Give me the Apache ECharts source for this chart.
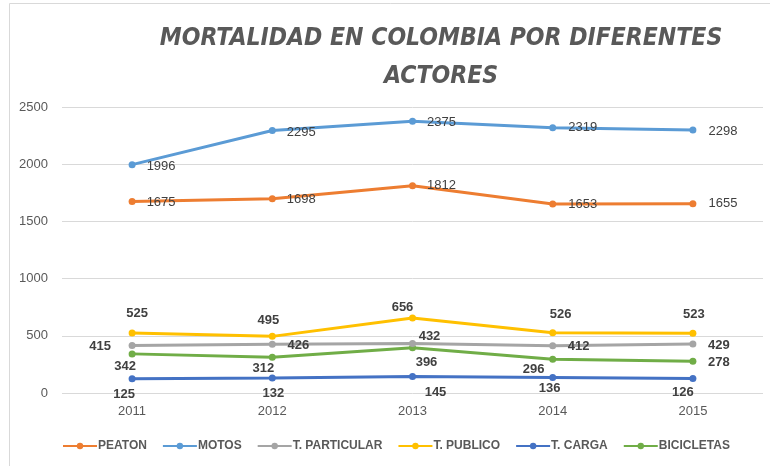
<!DOCTYPE html>
<html>
<head>
<meta charset="utf-8">
<script src="https://cdn.jsdelivr.net/npm/echarts@6/dist/echarts.min.js"></script>
<style>
  html, body { margin: 0; padding: 0; background: #fff; }
  #chart { width: 770px; height: 466px; }
</style>
</head>
<body>
<div id="chart"></div>
<script>
const years = ['2011', '2012', '2013', '2014', '2015']
const seriesNames = ['PEATON', 'MOTOS', 'T. PARTICULAR', 'T. PUBLICO', 'T. CARGA', 'BICICLETAS']
const peaton = [1675, 1698, 1812, 1653, 1655]
const motos = [1996, 2295, 2375, 2319, 2298]
const tParticular = [415, 426, 432, 412, 429]
const tPublico = [525, 495, 656, 526, 523]
const tCarga = [125, 132, 145, 136, 126]
const bicicletas = [342, 312, 396, 296, 278]

// colores estilo Office
const colors = ['#ED7D31', '#5B9BD5', '#A5A5A5', '#FFC000', '#4472C4', '#70AD47']

// desplazamiento de cada etiqueta respecto al punto [dx, dy]
const labelShift = [
  [[29, 1], [29, 1], [29, 0], [30, 1], [30, 0]],
  [[29, 2], [29, 2], [29, 1], [30, 0], [30, 1]],
  [[-32, 1], [26, 1], [17, -7], [26, 1], [26, 1]],
  [[5, -20], [-4, -16], [-10, -11], [8, -18], [1, -19]],
  [[-8, 16], [1, 16], [23, 16], [-3, 11], [-10, 14]],
  [[-7, 13], [-9, 11], [14, 15], [-19, 10], [26, 1]]
]

const values = [peaton, motos, tParticular, tPublico, tCarga, bicicletas]
const font = '"Liberation Sans", sans-serif'
const narrow = '"DejaVu Sans Condensed", "Liberation Sans", sans-serif'

const series = values.map((vals, i) => ({
  name: seriesNames[i],
  type: 'line',
  symbol: 'circle',
  symbolSize: 7,
  lineStyle: { width: 3, color: colors[i] },
  itemStyle: { color: colors[i] },
  z: 10 - i,
  label: {
    show: true,
    position: 'inside',
    fontFamily: font,
    fontSize: 13,
    fontWeight: i < 2 ? 'normal' : 'bold',
    color: '#404040'
  },
  data: vals.map((v, j) => ({
    value: v,
    label: { offset: labelShift[i][j] }
  }))
}))

const option = {
  animation: false,
  color: colors,
  graphic: [{
    type: 'rect',
    shape: { x: 9.5, y: 3.5, width: 800, height: 500 },
    style: { fill: 'none', stroke: '#d9d9d9', lineWidth: 1 }
  }],
  title: {
    text: 'MORTALIDAD EN COLOMBIA POR DIFERENTES\nACTORES',
    left: 436,
    top: 15,
    textAlign: 'center',
    textStyle: {
      fontFamily: narrow,
      fontSize: 24.5,
      fontStyle: 'italic',
      fontWeight: 'bold',
      color: '#595959',
      lineHeight: 38
    }
  },
  legend: {
    data: seriesNames,
    left: 57,
    top: 435,
    itemWidth: 34,
    itemHeight: 8,
    itemGap: 15,
    textStyle: { fontFamily: font, fontSize: 12, fontWeight: 'bold', color: '#595959', padding: [0, 0, 0, -4] }
  },
  grid: { left: 62, right: 7, top: 107, bottom: 73 },
  xAxis: {
    type: 'category',
    data: years,
    axisLine: { show: false },
    axisTick: { show: false },
    axisLabel: { fontFamily: font, fontSize: 13, color: '#595959', margin: 12 }
  },
  yAxis: {
    type: 'value',
    min: 0,
    max: 2500,
    interval: 500,
    axisLine: { show: false },
    axisTick: { show: false },
    splitLine: { lineStyle: { color: '#d9d9d9' } },
    axisLabel: { fontFamily: font, fontSize: 13, color: '#595959', margin: 14, formatter: v => String(v) }
  },
  series: series
}

const myChart = echarts.init(document.getElementById('chart'))
myChart.setOption(option)
</script>
</body>
</html>
